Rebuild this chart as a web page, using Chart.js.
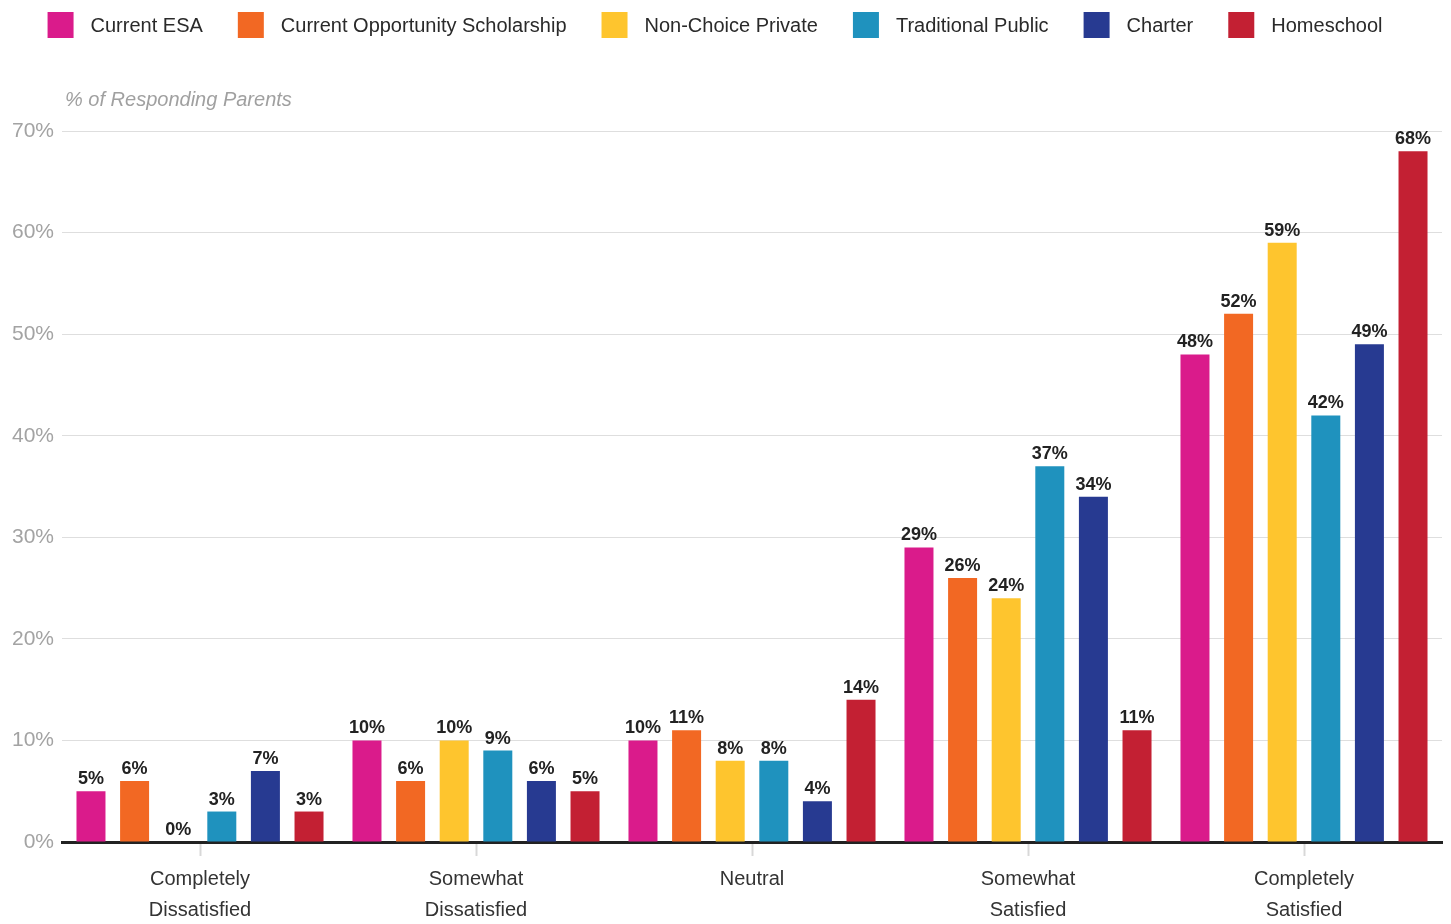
<!DOCTYPE html>
<html>
<head>
<meta charset="utf-8">
<title>Parent Satisfaction by School Type</title>
<script src="https://cdn.jsdelivr.net/npm/chart.js@4.4.1/dist/chart.umd.min.js"></script>
<style>
    html, body { margin: 0; padding: 0; background: #fff; }
    #wrap { width: 1451px; height: 924px; position: relative; }
</style>
</head>
<body>
<div id="wrap"><canvas id="satisfaction"></canvas></div>
<script>
// satisfaction levels (x axis)
var categories = [
    ["Completely", "Dissatisfied"],
    ["Somewhat", "Dissatisfied"],
    ["Neutral"],
    ["Somewhat", "Satisfied"],
    ["Completely", "Satisfied"]
];

// % of responding parents per school type
var currentEsa = [5, 10, 10, 29, 48];
var opportunityScholarship = [6, 6, 11, 26, 52];
var nonChoicePrivate = [0, 10, 8, 24, 59];
var traditionalPublic = [3, 9, 8, 37, 42];
var charter = [7, 6, 4, 34, 49];
var homeschool = [3, 5, 14, 11, 68];

var yTicks = [0, 10, 20, 30, 40, 50, 60, 70];

var FONT = "'Liberation Sans', Arial, sans-serif";

function makeSet(label, data, color) {
    return {
        label: label,
        data: data,
        backgroundColor: color,
        borderWidth: 0,
        categoryPercentage: 0.948,
        barPercentage: 0.665
    };
}

// legend drawn across the top, plus the axis caption
var topLegend = {
    id: 'topLegend',
    afterDraw: function(chart) {
        var ctx = chart.ctx;
        var sets = chart.data.datasets;
        var box = 26, gapText = 17, gapItem = 35;
        ctx.save();
        ctx.font = "20px " + FONT;
        var total = 0;
        var widths = sets.map(function(ds) { return ctx.measureText(ds.label).width; });
        widths.forEach(function(w, i) {
            total += box + gapText + w + (i < widths.length - 1 ? gapItem : 0);
        });
        var x = 715 - total / 2;
        ctx.textBaseline = 'middle';
        sets.forEach(function(ds, i) {
            ctx.fillStyle = ds.backgroundColor;
            ctx.fillRect(x, 12, box, box);
            ctx.fillStyle = '#2a2a2a';
            ctx.fillText(ds.label, x + box + gapText, 26);
            x += box + gapText + widths[i] + gapItem;
        });

        ctx.font = "italic 20px " + FONT;
        ctx.fillStyle = '#a0a0a0';
        ctx.textAlign = 'left';
        ctx.fillText('% of Responding Parents', chart.chartArea.left + 3, 100);
        ctx.restore();
    }
};

// value labels over each bar
var barValues = {
    id: 'barValues',
    afterDatasetsDraw: function(chart) {
        var ctx = chart.ctx;
        ctx.save();
        ctx.font = "bold 18px " + FONT;
        ctx.fillStyle = '#222';
        ctx.textAlign = 'center';
        ctx.textBaseline = 'alphabetic';
        chart.data.datasets.forEach(function(ds, i) {
            chart.getDatasetMeta(i).data.forEach(function(bar, j) {
                ctx.fillText(ds.data[j] + '%', bar.x, bar.y - 7);
            });
        });
        ctx.restore();
    }
};

var ctx = document.getElementById('satisfaction').getContext('2d');
var chart = new Chart(ctx, {
    type: 'bar',
    data: {
        labels: categories,
        datasets: [
            makeSet('Current ESA', currentEsa, '#da1b8b'),
            makeSet('Current Opportunity Scholarship', opportunityScholarship, '#f26823'),
            makeSet('Non-Choice Private', nonChoicePrivate, '#fec52e'),
            makeSet('Traditional Public', traditionalPublic, '#1f92be'),
            makeSet('Charter', charter, '#273a91'),
            makeSet('Homeschool', homeschool, '#c32033')
        ]
    },
    options: {
        responsive: true,
        maintainAspectRatio: false,
        animation: false,
        layout: { padding: { top: 131, right: 9, bottom: 0, left: 0 } },
        plugins: {
            legend: { display: false },
            tooltip: { enabled: false }
        },
        scales: {
            x: {
                grid: {
                    offset: false,
                    drawOnChartArea: false,
                    drawTicks: true,
                    tickLength: 14,
                    tickColor: '#d8d8d8',
                    tickWidth: 2
                },
                border: { display: true, color: '#222', width: 3 },
                ticks: {
                    color: '#333',
                    padding: 8,
                    maxRotation: 0,
                    font: { family: FONT, size: 20, lineHeight: 1.55 }
                },
                afterFit: function(scale) { scale.height = 82; }
            },
            y: {
                min: 0,
                max: 70,
                afterBuildTicks: function(scale) {
                    scale.ticks = yTicks.map(function(v) { return { value: v }; });
                },
                grid: { color: '#dedede', lineWidth: 1, drawTicks: false },
                border: { display: false },
                ticks: {
                    color: '#a3a3a3',
                    padding: 8,
                    font: { family: FONT, size: 21 },
                    callback: function(v) { return v + '%'; }
                },
                afterFit: function(scale) { scale.width = 62; }
            }
        }
    },
    plugins: [topLegend, barValues]
});
</script>
</body>
</html>
